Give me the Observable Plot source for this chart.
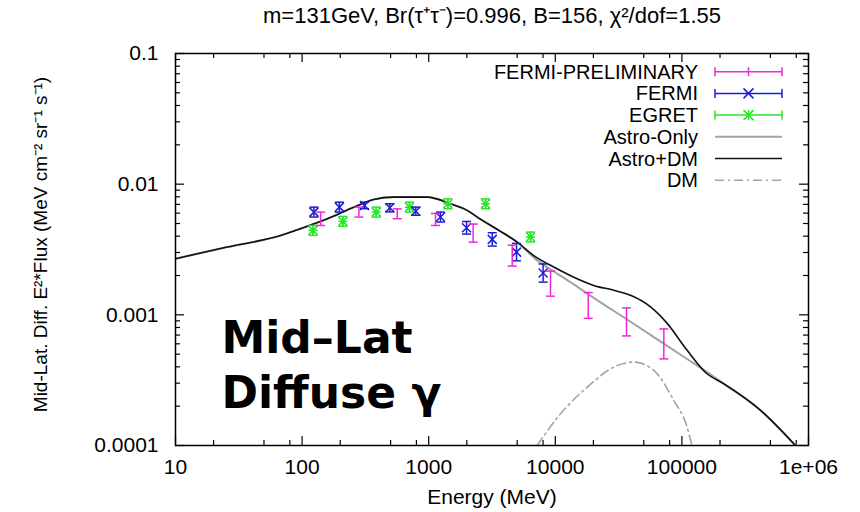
<!DOCTYPE html>
<html>
<head>
<meta charset="utf-8">
<script src="https://cdn.jsdelivr.net/npm/d3@7"></script>
<script src="https://cdn.jsdelivr.net/npm/@observablehq/plot@0.6"></script>
<style>
  html, body { margin: 0; padding: 0; background: #fff; }
  #chart { width: 860px; height: 512px; }
</style>
</head>
<body>
<div id="chart"></div>
<script>
// ---------- data ----------
const titleText = "m=131GeV, Br(τ⁺τ⁻)=0.996, B=156, χ²/dof=1.55";
const xTitle = "Energy (MeV)";
const yTitle = "Mid-Lat. Diff. E²*Flux (MeV cm⁻² sr⁻¹ s⁻¹)";
const annotationLines = ["Mid–Lat", "Diffuse γ"];

const xTicks = [10, 100, 1000, 10000, 100000, 1000000];
const xTickLabels = ["10", "100", "1000", "10000", "100000", "1e+06"];
const xMinorMantissas = [2, 5, 8];
const yTicks = [0.0001, 0.001, 0.01, 0.1];
const yTickLabels = ["0.0001", "0.001", "0.01", "0.1"];
const yMinorMantissas = [2, 3, 4, 5, 6, 7, 8, 9];

// FERMI-PRELIMINARY (magenta)
const prelimE  = [140, 281, 564, 1132, 2244, 4570, 9160, 18200, 36500, 72000];
const prelimF  = [0.00543, 0.00611, 0.00593, 0.00537, 0.00422, 0.00284, 0.00173, 0.00118, 0.00088, 0.00060];
const prelimLo = [0.00483, 0.00560, 0.00544, 0.00483, 0.00360, 0.00236, 0.00139, 0.00094, 0.00069, 0.00046];
const prelimHi = [0.00611, 0.00667, 0.00647, 0.00597, 0.00495, 0.00341, 0.00216, 0.00148, 0.00113, 0.00078];

// FERMI (blue)
const fermiE  = [124, 197, 311, 493, 791, 1239, 1990, 3177, 4940, 8010];
const fermiF  = [0.00611, 0.00667, 0.00687, 0.00659, 0.00621, 0.00560, 0.00464, 0.00378, 0.00302, 0.00209];
const fermiLo = [0.00560, 0.00611, 0.00649, 0.00614, 0.00578, 0.00513, 0.00415, 0.00336, 0.00259, 0.00178];
const fermiHi = [0.00667, 0.00728, 0.00728, 0.00708, 0.00667, 0.00611, 0.00518, 0.00425, 0.00352, 0.00245];

// EGRET (green)
const egretE  = [122, 210, 385, 705, 1416, 2812, 6370];
const egretF  = [0.00443, 0.00519, 0.00611, 0.00667, 0.00708, 0.00708, 0.00394];
const egretLo = [0.00406, 0.00476, 0.00560, 0.00611, 0.00649, 0.00649, 0.00361];
const egretHi = [0.00483, 0.00566, 0.00667, 0.00728, 0.00772, 0.00772, 0.00430];

// Astro+DM (black)
const astroDmE = [10, 25.6, 67.5, 97, 158, 256, 368, 530, 972, 1486, 2014, 2415, 3580, 5000, 6760, 9720, 14000, 20100, 29000, 39300, 56500, 76500, 110000, 158000, 214000, 418000, 789000];
const astroDmF = [0.00269, 0.00330, 0.00404, 0.00456, 0.00543, 0.00667, 0.00763, 0.00796, 0.00796, 0.00708, 0.00630, 0.00560, 0.00443, 0.00360, 0.00284, 0.00232, 0.00194, 0.00168, 0.00154, 0.00141, 0.00115, 0.00086, 0.000535, 0.000354, 0.000297, 0.000186, 0.000100];

// Astro-Only (gray)
const astroE = [10, 25.6, 67.5, 97, 158, 256, 368, 530, 972, 1486, 2014, 2415, 3580, 5000, 7180, 9720, 14000, 20100, 39300, 56500, 76500, 110000, 158000, 214000, 418000, 789000];
const astroF = [0.00269, 0.00330, 0.00404, 0.00456, 0.00543, 0.00667, 0.00763, 0.00796, 0.00796, 0.00708, 0.00630, 0.00560, 0.00443, 0.00360, 0.00261, 0.00215, 0.00171, 0.00135, 0.000885, 0.000702, 0.000578, 0.000459, 0.000364, 0.000297, 0.000186, 0.000100];

// DM (gray dash-dot)
const dmE = [7190, 11000, 17900, 29000, 41700, 60000, 86300, 110000, 120000];
const dmF = [0.000100, 0.000175, 0.000280, 0.000398, 0.000435, 0.000376, 0.000221, 0.000138, 0.000100];

const legendLabels = ["FERMI-PRELIMINARY", "FERMI", "EGRET", "Astro-Only", "Astro+DM", "DM"];

// ---------- styling ----------
const cMag = "#f027d6", cBlue = "#1c1cd2", cGreen = "#26e626", cGray = "#a3a3a3", cBlack = "#111";
const W = 860, H = 512, mL = 175, mR = 52, mT = 53, mB = 67;
const fw = W - mL - mR, fh = H - mT - mB;
const FONT = "'Liberation Sans', Arial, Helvetica, sans-serif";

const rows = (E, F, lo, hi) => E.map((e, i) => ({E: e, F: F[i], lo: lo ? lo[i] : null, hi: hi ? hi[i] : null}));
const prelim = rows(prelimE, prelimF, prelimLo, prelimHi);
const fermi = rows(fermiE, fermiF, fermiLo, fermiHi);
const egret = rows(egretE, egretF, egretLo, egretHi);
const astroDm = rows(astroDmE, astroDmF);
const astro = rows(astroE, astroF);
const dm = rows(dmE, dmF);

const xMinor = xTicks.slice(0, -1).flatMap(d => xMinorMantissas.map(m => d * m));
const yMinor = yTicks.slice(0, -1).flatMap(d => yMinorMantissas.map(m => d * m));

const capSym = {draw(ctx) { ctx.moveTo(-4.5, 0); ctx.lineTo(4.5, 0); }};
const timesSym = {draw(ctx) { const r = 4.5; ctx.moveTo(-r, -r); ctx.lineTo(r, r); ctx.moveTo(-r, r); ctx.lineTo(r, -r); }};
const starSym = {draw(ctx) { const r = 4.5; ctx.moveTo(-r, -r); ctx.lineTo(r, r); ctx.moveTo(-r, r); ctx.lineTo(r, -r); ctx.moveTo(0, -r); ctx.lineTo(0, r); ctx.moveTo(-r, 0); ctx.lineTo(r, 0); }};

function errMarks(data, color, sym) {
  const m = [
    Plot.ruleX(data, {x: "E", y1: "lo", y2: "hi", stroke: color, strokeWidth: 1.5}),
    Plot.dot(data, {x: "E", y: "lo", symbol: capSym, stroke: color, fill: "none", strokeWidth: 1.5}),
    Plot.dot(data, {x: "E", y: "hi", symbol: capSym, stroke: color, fill: "none", strokeWidth: 1.5})
  ];
  if (sym) m.push(Plot.dot(data, {x: "E", y: "F", symbol: sym, stroke: color, fill: "none", strokeWidth: 1.5}));
  return m;
}

const plot = Plot.plot({
  width: W, height: H,
  marginLeft: mL, marginRight: mR, marginTop: mT, marginBottom: mB,
  style: {fontFamily: FONT, fontSize: "21px", color: "#000", background: "#fff"},
  x: {type: "log", domain: [10, 1e6]},
  y: {type: "log", domain: [1e-4, 0.1]},
  marks: [
    // inward ticks, gnuplot style
    Plot.tickX(xTicks, {x: d => d, insetTop: fh - 9, stroke: "#000", strokeWidth: 1.2}),
    Plot.tickX(xTicks, {x: d => d, insetBottom: fh - 9, stroke: "#000", strokeWidth: 1.2}),
    Plot.tickX(xMinor, {x: d => d, insetTop: fh - 5, stroke: "#000", strokeWidth: 1.2}),
    Plot.tickX(xMinor, {x: d => d, insetBottom: fh - 5, stroke: "#000", strokeWidth: 1.2}),
    Plot.tickY(yTicks, {y: d => d, insetRight: fw - 9, stroke: "#000", strokeWidth: 1.2}),
    Plot.tickY(yTicks, {y: d => d, insetLeft: fw - 9, stroke: "#000", strokeWidth: 1.2}),
    Plot.tickY(yMinor, {y: d => d, insetRight: fw - 5, stroke: "#000", strokeWidth: 1.2}),
    Plot.tickY(yMinor, {y: d => d, insetLeft: fw - 5, stroke: "#000", strokeWidth: 1.2}),
    Plot.axisX(xTicks, {tickSize: 0, tickPadding: 14, tickFormat: d => xTickLabels[xTicks.indexOf(d)], label: null, fontSize: 21}),
    Plot.axisY(yTicks, {tickSize: 0, tickPadding: 17, tickFormat: d => yTickLabels[yTicks.indexOf(d)], label: null, fontSize: 21}),
    // curves
    Plot.line(dm, {x: "E", y: "F", stroke: cGray, strokeWidth: 1.6, strokeDasharray: "9,4,2,4", curve: "monotone-x", clip: true}),
    Plot.line(astro, {x: "E", y: "F", stroke: cGray, strokeWidth: 2, curve: "monotone-x", clip: true}),
    Plot.line(astroDm, {x: "E", y: "F", stroke: cBlack, strokeWidth: 1.6, curve: "monotone-x", clip: true}),
    // data with error bars
    ...errMarks(egret, cGreen, starSym),
    ...errMarks(fermi, cBlue, timesSym),
    ...errMarks(prelim, cMag, null),
    Plot.frame({stroke: "#000", strokeWidth: 1.5}),
    // titles
    Plot.text([titleText], {frameAnchor: "top", dy: -38, fontSize: 22, lineAnchor: "middle"}),
    Plot.text([xTitle], {frameAnchor: "bottom", dy: 52, fontSize: 21, lineAnchor: "middle"}),
    Plot.text([yTitle], {frameAnchor: "left", dx: -135, dy: -5, rotate: -90, textAnchor: "middle", fontSize: 19, lineAnchor: "middle"}),
    // big annotation
    Plot.text([annotationLines[0]], {frameAnchor: "bottom-left", dx: 46, dy: -107, textAnchor: "start", lineAnchor: "middle", fontSize: 44, fontWeight: "bold", fontFamily: "'DejaVu Sans', sans-serif"}),
    Plot.text([annotationLines[1]], {frameAnchor: "bottom-left", dx: 46, dy: -52, textAnchor: "start", lineAnchor: "middle", fontSize: 44, fontWeight: "bold", fontFamily: "'DejaVu Sans', sans-serif"})
  ]
});

// ---------- legend (key, top-right inside the frame) ----------
const svg = d3.select(plot);
const lg = svg.append("g").attr("font-family", FONT).attr("font-size", 20);
const legendStyles = [
  {color: cMag, err: true, sym: null, dash: null, w: 1.5},
  {color: cBlue, err: true, sym: "times", dash: null, w: 1.5},
  {color: cGreen, err: true, sym: "star", dash: null, w: 1.5},
  {color: cGray, err: false, sym: null, dash: null, w: 2},
  {color: cBlack, err: false, sym: null, dash: null, w: 1.6},
  {color: cGray, err: false, sym: null, dash: "9,4,2,4", w: 1.6}
];
const lx0 = 715, lx1 = 782, lxm = 748.5, ltext = 698, ly0 = 71.7, ldy = 21.7;
legendLabels.forEach((lab, i) => {
  const y = ly0 + i * ldy, s = legendStyles[i];
  lg.append("text").attr("x", ltext).attr("y", y).attr("dy", "0.35em").attr("text-anchor", "end").text(lab);
  const ln = lg.append("line").attr("x1", lx0).attr("x2", lx1).attr("y1", y).attr("y2", y)
    .attr("stroke", s.color).attr("stroke-width", s.w);
  if (s.dash) ln.attr("stroke-dasharray", s.dash);
  if (s.err) {
    [lx0, lx1].forEach(x => lg.append("line").attr("x1", x).attr("x2", x).attr("y1", y - 4.5).attr("y2", y + 4.5).attr("stroke", s.color).attr("stroke-width", 1.5));
    const g = lg.append("g").attr("transform", `translate(${lxm},${y})`).attr("stroke", s.color).attr("stroke-width", 1.5);
    if (!s.sym) g.append("line").attr("x1", 0).attr("x2", 0).attr("y1", -4.5).attr("y2", 4.5);
    else {
      const r = 5;
      g.append("line").attr("x1", -r).attr("y1", -r).attr("x2", r).attr("y2", r);
      g.append("line").attr("x1", -r).attr("y1", r).attr("x2", r).attr("y2", -r);
      if (s.sym === "star") g.append("line").attr("x1", 0).attr("y1", -r).attr("x2", 0).attr("y2", r);
    }
  }
});

document.getElementById("chart").appendChild(plot);
</script>
</body>
</html>
